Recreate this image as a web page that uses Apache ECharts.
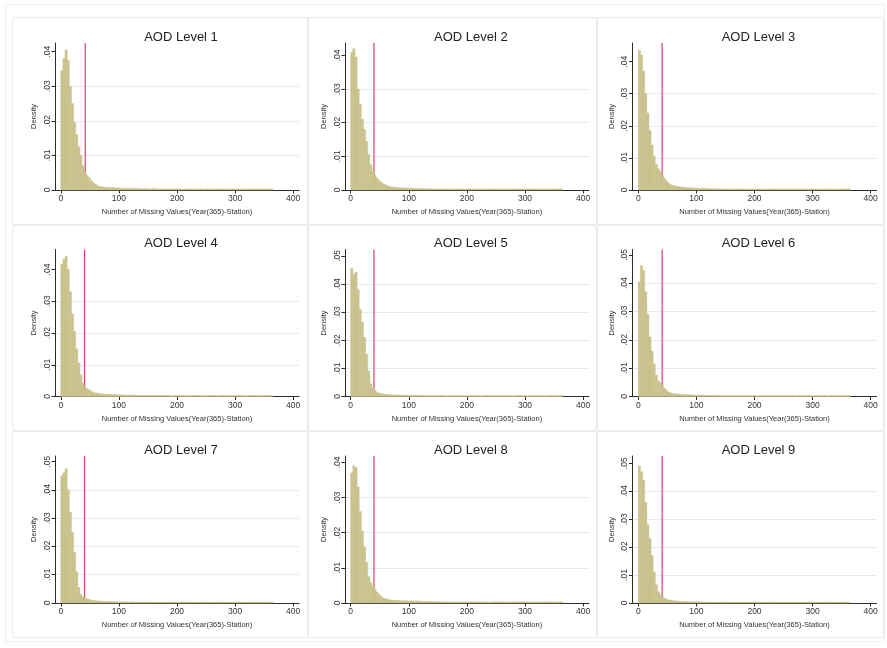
<!DOCTYPE html>
<html><head><meta charset="utf-8">
<script src="https://cdn.jsdelivr.net/npm/echarts@6/dist/echarts.min.js"></script>
<style>html,body{margin:0;padding:0;background:#fff}#c{width:887px;height:648px}</style>
</head><body><div id="c"></div>
<script>
// ---------- data ----------
const titles = ['AOD Level 1','AOD Level 2','AOD Level 3','AOD Level 4','AOD Level 5','AOD Level 6','AOD Level 7','AOD Level 8','AOD Level 9'];
const xAxisTitle = 'Number of Missing Values(Year(365)-Station)';
const yAxisTitle = 'Density';
const xTicks = [0, 100, 200, 300, 400];
const yTicks4 = [0, 0.01, 0.02, 0.03, 0.04];
const yTicks5 = [0, 0.01, 0.02, 0.03, 0.04, 0.05];
const binWidth = 3.65;              // 100 bins over 0..365
const refLine = [42, 40, 41, 41, 40, 41, 41, 40, 41];
const yTop = [0.0425, 0.0437, 0.0458, 0.0463, 0.0523, 0.0519, 0.0520, 0.0418, 0.0526];

const aod1 = [.0345,.0380,.0405,.0375,.0300,.0250,.0195,.0160,.0125,.0100,
 .0070,.0050,.0042,.0035,.0026,.0020,.0016,.0012,.0010,.0009,
 .0008,.0008,.0007,.0007,.0007,.0006,.0006,.0006,.0005,.0005,
 .0005,.0004,.0005,.0004,.0004,.0004,.0004,.0004,.0003,.0004,
 .0004,.0003,.0003,.0004,.0003,.0003,.0003,.0003,.0003,.0003,
 .0003,.0003,.0003,.0003,.0003,.0003,.0003,.0002,.0003,.0003,
 .0003,.0003,.0002,.0003,.0003,.0003,.0003,.0002,.0003,.0003,
 .0003,.0002,.0003,.0003,.0003,.0002,.0003,.0003,.0002,.0003,
 .0003,.0003,.0002,.0003,.0003,.0003,.0003,.0002,.0003,.0003,
 .0003,.0003,.0003,.0003,.0003,.0003,.0003,.0003,.0003,.0003];
const aod2 = [.0408,.0420,.0395,.0300,.0255,.0210,.0180,.0145,.0105,.0075,
 .0055,.0044,.0035,.0028,.0022,.0018,.0015,.0012,.0010,.0009,
 .0008,.0008,.0007,.0007,.0006,.0006,.0006,.0005,.0005,.0005,
 .0005,.0004,.0004,.0004,.0004,.0004,.0003,.0004,.0003,.0003,
 .0003,.0003,.0003,.0003,.0003,.0003,.0003,.0003,.0003,.0002,
 .0003,.0003,.0003,.0002,.0003,.0003,.0003,.0003,.0002,.0003,
 .0003,.0003,.0003,.0003,.0002,.0003,.0003,.0003,.0003,.0003,
 .0002,.0003,.0003,.0003,.0003,.0002,.0003,.0003,.0003,.0003,
 .0003,.0002,.0003,.0003,.0003,.0003,.0003,.0002,.0003,.0003,
 .0003,.0003,.0003,.0003,.0002,.0003,.0003,.0003,.0003,.0003];
const aod3 = [.0435,.0420,.0370,.0300,.0240,.0185,.0140,.0105,.0080,.0066,
 .0057,.0045,.0035,.0026,.0020,.0016,.0014,.0012,.0011,.0010,
 .0009,.0008,.0008,.0007,.0007,.0006,.0006,.0006,.0005,.0005,
 .0005,.0005,.0004,.0004,.0004,.0004,.0004,.0003,.0004,.0003,
 .0003,.0003,.0003,.0003,.0003,.0003,.0003,.0003,.0003,.0003,
 .0003,.0002,.0003,.0003,.0003,.0003,.0003,.0003,.0002,.0003,
 .0003,.0003,.0003,.0003,.0003,.0002,.0003,.0003,.0003,.0003,
 .0003,.0003,.0002,.0003,.0003,.0003,.0003,.0003,.0002,.0003,
 .0003,.0003,.0003,.0003,.0003,.0002,.0003,.0003,.0003,.0003,
 .0003,.0003,.0003,.0002,.0003,.0003,.0003,.0003,.0003,.0003];
const aod4 = [.0416,.0432,.0442,.0400,.0330,.0260,.0205,.0150,.0105,.0068,
 .0042,.0029,.0024,.0020,.0016,.0013,.0011,.0010,.0009,.0008,
 .0007,.0007,.0007,.0006,.0006,.0006,.0005,.0005,.0005,.0005,
 .0004,.0004,.0004,.0004,.0004,.0004,.0004,.0003,.0003,.0004,
 .0003,.0003,.0003,.0003,.0003,.0003,.0003,.0003,.0003,.0003,
 .0003,.0003,.0002,.0003,.0003,.0003,.0003,.0003,.0003,.0002,
 .0003,.0003,.0003,.0003,.0003,.0003,.0002,.0003,.0003,.0003,
 .0003,.0003,.0003,.0002,.0003,.0003,.0003,.0003,.0003,.0003,
 .0002,.0003,.0003,.0003,.0003,.0003,.0003,.0002,.0003,.0003,
 .0003,.0003,.0003,.0003,.0003,.0002,.0003,.0003,.0003,.0003];
const aod5 = [.0455,.0435,.0442,.0380,.0310,.0265,.0210,.0150,.0090,.0045,
 .0028,.0020,.0015,.0012,.0010,.0008,.0007,.0007,.0006,.0006,
 .0005,.0005,.0005,.0005,.0004,.0004,.0004,.0004,.0004,.0004,
 .0004,.0003,.0004,.0003,.0003,.0003,.0003,.0003,.0003,.0003,
 .0003,.0003,.0003,.0003,.0003,.0002,.0003,.0003,.0003,.0003,
 .0003,.0003,.0003,.0003,.0002,.0003,.0003,.0003,.0003,.0003,
 .0003,.0002,.0003,.0003,.0003,.0003,.0003,.0003,.0002,.0003,
 .0003,.0003,.0003,.0003,.0003,.0003,.0002,.0003,.0003,.0003,
 .0003,.0003,.0003,.0002,.0003,.0003,.0003,.0003,.0003,.0003,
 .0003,.0002,.0003,.0003,.0003,.0003,.0003,.0003,.0003,.0003];
const aod6 = [.0405,.0462,.0445,.0370,.0290,.0210,.0160,.0115,.0075,.0055,
 .0048,.0040,.0028,.0020,.0015,.0012,.0010,.0009,.0008,.0008,
 .0007,.0007,.0006,.0006,.0006,.0005,.0005,.0005,.0005,.0004,
 .0004,.0004,.0004,.0004,.0004,.0003,.0004,.0003,.0003,.0003,
 .0003,.0003,.0003,.0003,.0003,.0003,.0003,.0003,.0002,.0003,
 .0003,.0003,.0003,.0003,.0003,.0003,.0002,.0003,.0003,.0003,
 .0003,.0003,.0003,.0003,.0003,.0003,.0003,.0002,.0003,.0003,
 .0003,.0003,.0003,.0003,.0002,.0003,.0003,.0003,.0003,.0003,
 .0003,.0003,.0002,.0003,.0003,.0003,.0003,.0003,.0003,.0002,
 .0003,.0003,.0003,.0003,.0003,.0003,.0003,.0003,.0003,.0003];
const aod7 = [.0450,.0460,.0475,.0400,.0320,.0250,.0180,.0110,.0055,.0030,
 .0022,.0017,.0014,.0012,.0010,.0009,.0008,.0007,.0007,.0006,
 .0006,.0005,.0005,.0005,.0005,.0004,.0004,.0004,.0004,.0004,
 .0004,.0003,.0003,.0004,.0003,.0003,.0003,.0003,.0003,.0003,
 .0003,.0003,.0003,.0003,.0003,.0003,.0002,.0003,.0003,.0003,
 .0003,.0003,.0003,.0003,.0003,.0002,.0003,.0003,.0003,.0003,
 .0003,.0003,.0003,.0002,.0003,.0003,.0003,.0003,.0003,.0003,
 .0003,.0003,.0002,.0003,.0003,.0003,.0003,.0003,.0003,.0002,
 .0003,.0003,.0003,.0003,.0003,.0002,.0003,.0003,.0003,.0003,
 .0003,.0003,.0003,.0003,.0003,.0003,.0003,.0003,.0003,.0003];
const aod8 = [.0370,.0390,.0385,.0330,.0260,.0205,.0160,.0115,.0075,.0058,
 .0047,.0039,.0031,.0024,.0018,.0014,.0012,.0010,.0009,.0008,
 .0008,.0007,.0007,.0006,.0007,.0006,.0006,.0005,.0006,.0005,
 .0005,.0006,.0004,.0005,.0004,.0005,.0004,.0004,.0004,.0004,
 .0003,.0004,.0003,.0003,.0003,.0003,.0003,.0003,.0003,.0003,
 .0003,.0003,.0003,.0002,.0003,.0003,.0003,.0003,.0003,.0003,
 .0003,.0003,.0003,.0003,.0003,.0002,.0003,.0003,.0003,.0003,
 .0003,.0003,.0003,.0003,.0002,.0003,.0003,.0003,.0003,.0003,
 .0003,.0003,.0003,.0003,.0003,.0003,.0002,.0003,.0003,.0003,
 .0003,.0003,.0003,.0003,.0003,.0003,.0003,.0003,.0003,.0003];
const aod9 = [.0490,.0470,.0440,.0360,.0280,.0230,.0170,.0110,.0065,.0040,
 .0030,.0023,.0017,.0013,.0011,.0009,.0008,.0007,.0007,.0006,
 .0006,.0005,.0005,.0005,.0004,.0004,.0004,.0004,.0004,.0004,
 .0004,.0003,.0003,.0003,.0003,.0003,.0003,.0003,.0003,.0003,
 .0003,.0003,.0003,.0003,.0003,.0003,.0003,.0002,.0003,.0003,
 .0003,.0003,.0003,.0003,.0003,.0003,.0003,.0003,.0002,.0003,
 .0003,.0003,.0003,.0003,.0003,.0003,.0002,.0003,.0003,.0003,
 .0003,.0003,.0003,.0003,.0003,.0002,.0003,.0003,.0003,.0003,
 .0003,.0003,.0003,.0003,.0002,.0003,.0003,.0003,.0003,.0003,
 .0003,.0003,.0003,.0003,.0003,.0003,.0003,.0003,.0003,.0003];
const panels = [aod1, aod2, aod3, aod4, aod5, aod6, aod7, aod8, aod9];

// ---------- layout / style ----------
const FF = '"Liberation Sans", Arial, Helvetica, sans-serif';
const colLeft = [55, 344.9, 632.5];
const rowTop = [43, 249.5, 456];
const gw = 244, gh = 147;
const panelX = [12, 308, 597], panelW = [295, 288, 286];
const panelY = [17, 225, 431], panelH = [207, 205, 206];
const barFill = '#cbc38e';
const axisColor = '#2b2b2b';
const gridColor = '#e4ecf0';

const chart = echarts.init(document.getElementById('c'), null, {renderer: 'canvas'});
const grids = [], xAxes = [], yAxes = [], series = [], graphics = [];

graphics.push({type: 'rect', shape: {x: 5.5, y: 4.5, width: 879, height: 637}, style: {fill: 'none', stroke: '#eef1f2', lineWidth: 1}, z: -10, silent: true});
for (let r = 0; r < 3; r++) for (let c = 0; c < 3; c++) {
  graphics.push({type: 'rect', shape: {x: panelX[c] + 0.5, y: panelY[r] + 0.5, width: panelW[c], height: panelH[r]}, style: {fill: '#fff', stroke: '#e9ecee', lineWidth: 1}, z: -9, silent: true});
}

panels.forEach((vals, i) => {
  const r = Math.floor(i / 3), c = i % 3;
  grids.push({left: colLeft[c], top: rowTop[r], width: gw, height: gh, containLabel: false});
  xAxes.push({
    type: 'value', gridIndex: i, min: -10, max: 410,
    name: xAxisTitle, nameLocation: 'middle', nameGap: 18,
    nameTextStyle: {fontSize: 7.5, color: '#333', fontFamily: FF},
    axisLine: {show: true, onZero: false, lineStyle: {color: axisColor, width: 1}},
    axisTick: {show: true, length: 3.5, customValues: xTicks, lineStyle: {color: axisColor}},
    axisLabel: {customValues: xTicks, fontSize: 8.5, color: '#333', margin: 4.5, fontFamily: FF},
    splitLine: {show: false}
  });
  const yt = yTop[i] >= 0.05 ? yTicks5 : yTicks4;
  yAxes.push({
    type: 'value', gridIndex: i, min: 0, max: yTop[i], interval: 0.01,
    name: yAxisTitle, nameLocation: 'middle', nameGap: 17, nameRotate: 90,
    nameTextStyle: {fontSize: 7.5, color: '#333', fontFamily: FF},
    axisLine: {show: true, onZero: false, lineStyle: {color: axisColor, width: 1}},
    axisTick: {show: true, length: 3.5, customValues: yt, lineStyle: {color: axisColor}},
    axisLabel: {customValues: yt, rotate: 90, fontSize: 8.5, color: '#333', margin: 3, fontFamily: FF,
      formatter: v => v === 0 ? '0' : v.toFixed(2).replace(/^0/, '')},
    splitLine: {show: true, showMaxLine: false, showMinLine: false, lineStyle: {color: gridColor, width: 1}}
  });
  series.push({
    type: 'custom', xAxisIndex: i, yAxisIndex: i, z: 3,
    data: vals.map((v, k) => [k * binWidth, (k + 1) * binWidth, v]),
    renderItem: (params, api) => {
      const p0 = api.coord([api.value(0), api.value(2)]);
      const p1 = api.coord([api.value(1), 0]);
      return {type: 'rect', shape: {x: p0[0], y: p0[1], width: p1[0] - p0[0], height: p1[1] - p0[1]},
        style: {fill: barFill, stroke: '#c6be88', lineWidth: 0.5}};
    },
    silent: true, animation: false
  });
  series.push({
    type: 'custom', xAxisIndex: i, yAxisIndex: i, z: 2,
    data: [[refLine[i]]],
    renderItem: (params, api) => {
      const p = api.coord([api.value(0), 0]);
      return {type: 'line', shape: {x1: p[0], y1: params.coordSys.y, x2: p[0], y2: p[1]},
        style: {stroke: '#d4325a', lineWidth: 1.1}};
    },
    silent: true, animation: false
  });
  graphics.push({type: 'text', x: colLeft[c] + gw / 2 + 4, y: rowTop[r] - 6,
    style: {text: titles[i], fontSize: 13, fontFamily: FF, fill: '#222', textAlign: 'center', textVerticalAlign: 'middle'}, z: 10});
});

chart.setOption({
  animation: false,
  backgroundColor: '#fff',
  grid: grids, xAxis: xAxes, yAxis: yAxes, series: series, graphic: graphics
});
</script></body></html>
